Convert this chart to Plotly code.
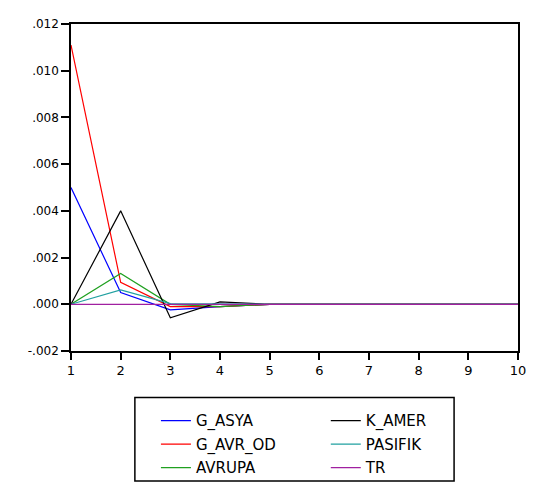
import plotly.graph_objects as go

periods = [1, 2, 3, 4, 5, 6, 7, 8, 9, 10]
g_asya = [0.0050, 0.0005, -0.00024, -0.0001, 0, 0, 0, 0, 0, 0]
g_avr_od = [0.0111, 0.00094, -0.0001, -0.0001, 0, 0, 0, 0, 0, 0]
avrupa = [0.0, 0.00132, 0.0, -0.0001, 0, 0, 0, 0, 0, 0]
k_amer = [0.0, 0.0040, -0.00058, 0.0001, 0, 0, 0, 0, 0, 0]
pasifik = [0.0, 0.00062, 0.00003, 0.0, 0, 0, 0, 0, 0, 0]
tr = [0, 0, 0, 0, 0, 0, 0, 0, 0, 0]

ytick_vals = [-0.002, 0.0, 0.002, 0.004, 0.006, 0.008, 0.010, 0.012]
ytick_text = ["-.002", ".000", ".002", ".004", ".006", ".008", ".010", ".012"]

# name, values, colour, legend column
series = [
    ("G_ASYA", g_asya, "#0000FF", "legend"),
    ("G_AVR_OD", g_avr_od, "#FF0000", "legend"),
    ("AVRUPA", avrupa, "#20A020", "legend"),
    ("K_AMER", k_amer, "#000000", "legend2"),
    ("PASIFIK", pasifik, "#20A0A0", "legend2"),
    ("TR", tr, "#A020A0", "legend2"),
]

fig = go.Figure()
for name, vals, color, leg in series:
    fig.add_trace(go.Scatter(
        x=periods, y=vals, name=name, mode="lines", legend=leg,
        legendgroup=name, line=dict(color=color, width=1.2),
    ))

legfont = dict(family="DejaVu Sans, Arial", size=15, color="black")
common_leg = dict(
    xanchor="left", yanchor="top", y=-0.163, orientation="v",
    bgcolor="rgba(0,0,0,0)", borderwidth=0, font=legfont,
    traceorder="grouped", tracegroupgap=1,
)

fig.update_layout(
    width=527, height=485,
    margin=dict(l=63, r=16, t=9, b=139),
    paper_bgcolor="white", plot_bgcolor="white",
    font=dict(family="DejaVu Sans, Arial", size=12, color="black"),
    showlegend=True,
    legend=dict(x=0.19, **common_leg),
    legend2=dict(x=0.57, **common_leg),
    shapes=[dict(
        type="rect", xref="paper", yref="paper",
        x0=0.1429, x1=0.857, y0=-0.3976, y1=-0.1424,
        line=dict(color="black", width=1.5), fillcolor="rgba(0,0,0,0)",
    )],
)
fig.update_xaxes(
    range=[1, 10], tickvals=periods, ticktext=[str(p) for p in periods],
    showgrid=False, zeroline=False, showline=True, linecolor="black", linewidth=1.5,
    mirror=True, ticks="outside", ticklen=7, tickcolor="black", tickwidth=1.5,
    tickfont=dict(size=13),
)
fig.update_yaxes(
    range=[-0.002, 0.012], tickvals=ytick_vals, ticktext=ytick_text,
    showgrid=False, zeroline=False, showline=True, linecolor="black", linewidth=1.5,
    mirror=True, ticks="outside", ticklen=8, tickcolor="black", tickwidth=1.5,
    tickfont=dict(size=12),
)

fig.write_html("out.html")
